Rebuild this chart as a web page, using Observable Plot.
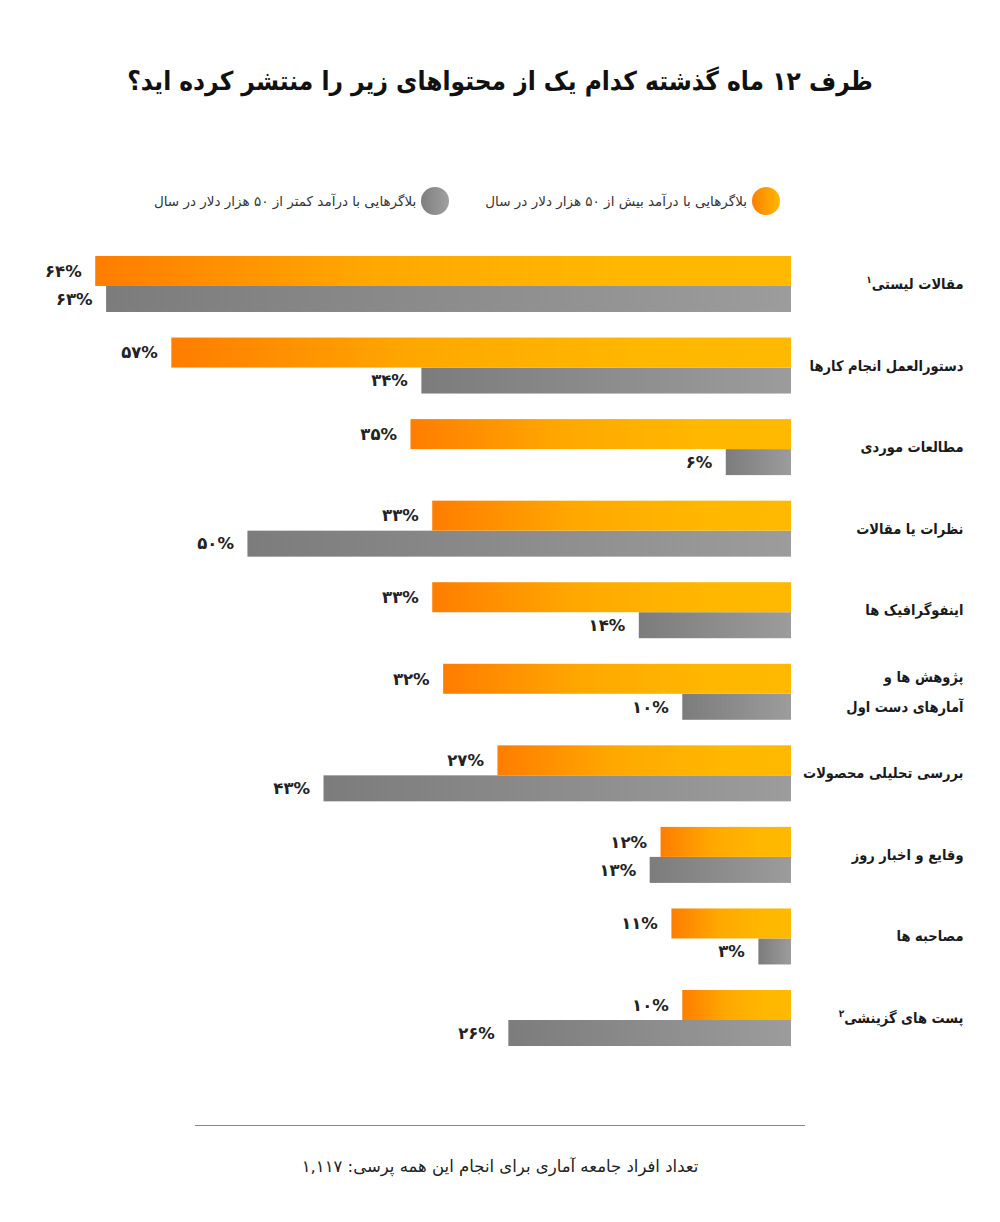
<!DOCTYPE html>
<html><head><meta charset="utf-8">
<script src="https://cdn.jsdelivr.net/npm/d3@7"></script>
<script src="https://cdn.jsdelivr.net/npm/@observablehq/plot@0.6"></script>
<style>
body{margin:0;background:#fff;font-family:"DejaVu Sans",sans-serif;}
#page{position:relative;width:1000px;height:1222px;overflow:hidden;}
#title{position:absolute;top:66px;left:0;width:1000px;text-align:center;font-weight:bold;font-size:26px;color:#111;direction:rtl;font-family:"DejaVu Sans Condensed","DejaVu Sans",sans-serif;}
#legend{position:absolute;top:187px;right:220px;display:flex;direction:rtl;align-items:center;gap:36px;}
.item{display:flex;align-items:center;direction:rtl;}
.dot{width:28px;height:28px;border-radius:50%;margin-left:5px;}
.item span{font-size:13.5px;color:#333;white-space:nowrap;}
#chart{position:absolute;top:230px;left:0;line-height:0;}
#rule{position:absolute;top:1125px;left:195px;width:610px;height:0;border-top:1px solid #888;}
#caption{position:absolute;top:1157px;left:0;width:1000px;text-align:center;font-size:16.5px;color:#222;direction:rtl;}
.lbl text{direction:rtl;}
</style>
</head><body>
<div id="page">
  <div id="title"></div>
  <div id="legend"></div>
  <div id="chart"></div>
  <div id="rule"></div>
  <div id="caption"></div>
</div>
<script>
const title = "ظرف ۱۲ ماه گذشته کدام یک از محتواهای زیر را منتشر کرده اید؟";
const caption = "تعداد افراد جامعه آماری برای انجام این همه پرسی: ۱,۱۱۷";
const seriesNames = ["بلاگرهایی با درآمد بیش از ۵۰ هزار دلار در سال", "بلاگرهایی با درآمد کمتر از ۵۰ هزار دلار در سال"];
const categories = [
  "مقالات لیستی",
  "دستورالعمل انجام کارها",
  "مطالعات موردی",
  "نظرات یا مقالات",
  "اینفوگرافیک ها",
  "پژوهش ها و\nآمارهای دست اول",
  "بررسی تحلیلی محصولات",
  "وقایع و اخبار روز",
  "مصاحبه ها",
  "پست های گزینشی"
];
const footnotes = ["۱", "", "", "", "", "", "", "", "", "۲"];
const over50k = [64, 57, 35, 33, 33, 32, 27, 12, 11, 10];
const under50k = [63, 34, 6, 50, 14, 10, 43, 13, 3, 26];

const rows = categories.map((c, i) => ({category: c, high: over50k[i], low: under50k[i], note: footnotes[i]}));
const fa = v => String(v).replace(/\d/g, d => "۰۱۲۳۴۵۶۷۸۹"[d]) + "%";

document.getElementById("title").textContent = title;
document.getElementById("caption").textContent = caption;

const legendFills = ["linear-gradient(to right,#ff8000,#ffb800)", "linear-gradient(to right,#7e7e7e,#a0a0a0)"];
const legend = document.getElementById("legend");
seriesNames.forEach((n, i) => {
  const it = document.createElement("div"); it.className = "item";
  const dot = document.createElement("div"); dot.className = "dot"; dot.style.background = legendFills[i];
  const sp = document.createElement("span"); sp.textContent = n;
  it.appendChild(dot); it.appendChild(sp); legend.appendChild(it);
});

const NS = "http://www.w3.org/2000/svg";
function defs() {
  const d = document.createElementNS(NS, "defs");
  const mk = (id, stops) => {
    const g = document.createElementNS(NS, "linearGradient");
    g.setAttribute("id", id); g.setAttribute("x1", "0"); g.setAttribute("x2", "1"); g.setAttribute("y1", "0"); g.setAttribute("y2", "0");
    stops.forEach(([o, c]) => { const s = document.createElementNS(NS, "stop"); s.setAttribute("offset", o); s.setAttribute("stop-color", c); g.appendChild(s); });
    d.appendChild(g);
  };
  mk("gOrange", [[0, "#ff7d00"], [0.4, "#ffa800"], [0.75, "#ffb700"], [1, "#ffb900"]]);
  mk("gGray", [[0, "#7c7c7c"], [1, "#9c9c9c"]]);
  return d;
}

const step = 81.56;
const half = step / 2;
const chart = Plot.plot({
  width: 1000,
  height: 860,
  marginLeft: 30,
  marginRight: 209,
  marginTop: 15.2,
  marginBottom: 860 - 15.2 - step * categories.length,
  style: {fontFamily: "'DejaVu Sans', sans-serif", background: "#fff"},
  x: {domain: [0, 70], reverse: true, axis: null},
  y: {domain: categories, padding: 0, round: false, axis: null},
  marks: [
    defs,
    Plot.barX(rows, {y: "category", x: "low", fill: "url(#gGray)", insetTop: half, insetBottom: half - 26}),
    Plot.barX(rows, {y: "category", x: "high", fill: "url(#gOrange)", insetTop: half - 30, insetBottom: half}),
    Plot.text(rows, {y: "category", x: "high", text: d => fa(d.high), dx: -14, dy: -15, textAnchor: "end", fontWeight: "bold", fontSize: 16.5, fill: "#222"}),
    Plot.text(rows, {y: "category", x: "low", text: d => fa(d.low), dx: -14, dy: 13, textAnchor: "end", fontWeight: "bold", fontSize: 16.5, fill: "#222"}),
    Plot.text(rows, {y: "category", x: 0, text: "category", dx: 172, dy: -7, textAnchor: "start", fontWeight: "bold", fontSize: 14.5, fontFamily: "'DejaVu Sans Condensed', 'DejaVu Sans', sans-serif", fill: "#1a1a1a", lineHeight: 2.05, className: "lbl"})
  ]
});
document.getElementById("chart").appendChild(chart);

// footnote superscripts on the category labels
d3.select(chart).selectAll("g.lbl text").each(function(_, i) {
  const n = rows[i] && rows[i].note;
  if (n) {
    d3.select(this).append("tspan").attr("font-size", 10).attr("dy", "-0.6em").text(n);
  }
});
</script>
</body></html>
